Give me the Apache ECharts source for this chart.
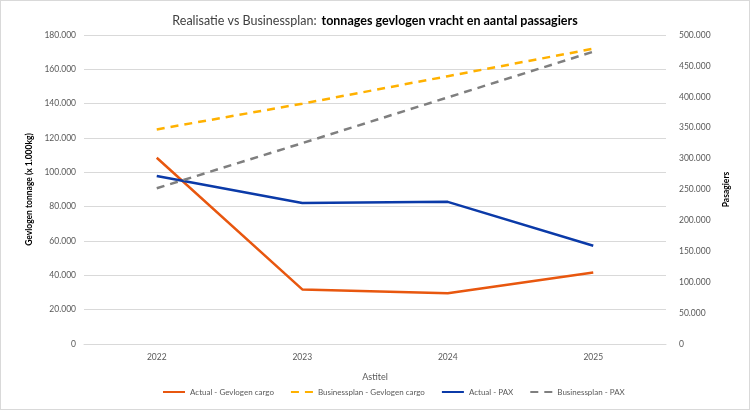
<!DOCTYPE html>
<html lang="nl">
<head>
    <meta charset="UTF-8">
    <title>Realisatie vs Businessplan</title>
    <script src="https://cdn.jsdelivr.net/npm/echarts@6/dist/echarts.min.js" type="text/javascript"></script>
    <style>
        html, body { margin: 0; padding: 0; background: #fff; }
        #main { width: 748px; height: 408px; border: 1px solid #d9d9d9; }
    </style>
</head>
<body>
<div id="main"></div>
<script>
    // jaren op de x-as
    var years = ['2022', '2023', '2024', '2025'];

    // tonnage (x 1.000 kg), linker as
    var actualCargo = [108500, 31800, 29500, 41700];
    var planCargo = [125000, 140000, 156000, 172000];

    // passagiers, rechter as
    var actualPax = [272000, 228000, 230000, 159000];
    var planPax = [252000, 325000, 399000, 473000];

    function nl(v) {
        return String(v).replace(/\B(?=(\d{3})+(?!\d))/g, '.');
    }

    var myChart = echarts.init(document.getElementById('main'));

    var font = 'Lato, "Open Sans", sans-serif';

    var option = {
        animation: false,
        title: {
            text: '{a|Realisatie vs Businessplan:} {b|tonnages gevlogen vracht en aantal passagiers}',
            left: 'center',
            top: 6,
            textStyle: {
                fontWeight: 'normal',
                rich: {
                    a: { fontSize: 12.5, color: '#404040', fontWeight: 'normal', fontFamily: font },
                    b: { fontSize: 12.5, color: '#000', fontWeight: 'bold', fontFamily: font }
                }
            }
        },
        legend: {
            bottom: 8,
            left: 156,
            itemWidth: 22,
            itemHeight: 3,
            itemGap: 16,
            itemStyle: { opacity: 0 },
            textStyle: { color: '#595959', fontSize: 8, fontFamily: font },
            data: ['Actual - Gevlogen cargo', 'Businessplan - Gevlogen cargo', 'Actual - PAX', 'Businessplan - PAX']
        },
        grid: { left: 83, right: 83, top: 34, bottom: 65 },
        xAxis: {
            type: 'category',
            data: years,
            name: 'Astitel',
            nameLocation: 'middle',
            nameGap: 29,
            nameTextStyle: { color: '#595959', fontSize: 9, fontFamily: font },
            axisTick: { show: false },
            axisLine: { lineStyle: { color: '#d9d9d9' } },
            axisLabel: { color: '#595959', fontSize: 8.5, fontFamily: font, margin: 9 }
        },
        yAxis: [
            {
                type: 'value',
                min: 0, max: 180000, interval: 20000,
                name: 'Gevlogen tonnage (x 1.000kg)',
                nameLocation: 'middle',
                nameGap: 50,
                nameTextStyle: { color: '#000', fontSize: 8.5, fontWeight: 'bold', fontFamily: font },
                axisLabel: { color: '#595959', fontSize: 8.5, fontFamily: font, margin: 8, formatter: nl },
                splitLine: { lineStyle: { color: '#d9d9d9' } }
            },
            {
                type: 'value',
                min: 0, max: 500000, interval: 50000,
                name: 'Pasagiers',
                nameLocation: 'middle',
                nameGap: 52,
                nameRotate: 90,
                nameTextStyle: { color: '#000', fontSize: 8.5, fontWeight: 'bold', fontFamily: font },
                axisLabel: { color: '#595959', fontSize: 8.5, fontFamily: font, margin: 13, formatter: nl },
                splitLine: { show: false }
            }
        ],
        series: [
            {
                name: 'Actual - Gevlogen cargo', type: 'line', yAxisIndex: 0,
                data: actualCargo, symbol: 'none',
                itemStyle: { color: '#E8570F' },
                lineStyle: { color: '#E8570F', width: 2.5 }
            },
            {
                name: 'Businessplan - Gevlogen cargo', type: 'line', yAxisIndex: 0,
                data: planCargo, symbol: 'none',
                itemStyle: { color: '#FFB100' },
                lineStyle: { color: '#FFB100', width: 2.5, type: [8, 6] }
            },
            {
                name: 'Actual - PAX', type: 'line', yAxisIndex: 1,
                data: actualPax, symbol: 'none',
                itemStyle: { color: '#0B3AA8' },
                lineStyle: { color: '#0B3AA8', width: 2.5 }
            },
            {
                name: 'Businessplan - PAX', type: 'line', yAxisIndex: 1,
                data: planPax, symbol: 'none',
                itemStyle: { color: '#7F7F7F' },
                lineStyle: { color: '#7F7F7F', width: 2.5, type: [8, 6] }
            }
        ]
    };

    myChart.setOption(option);
</script>
</body>
</html>
